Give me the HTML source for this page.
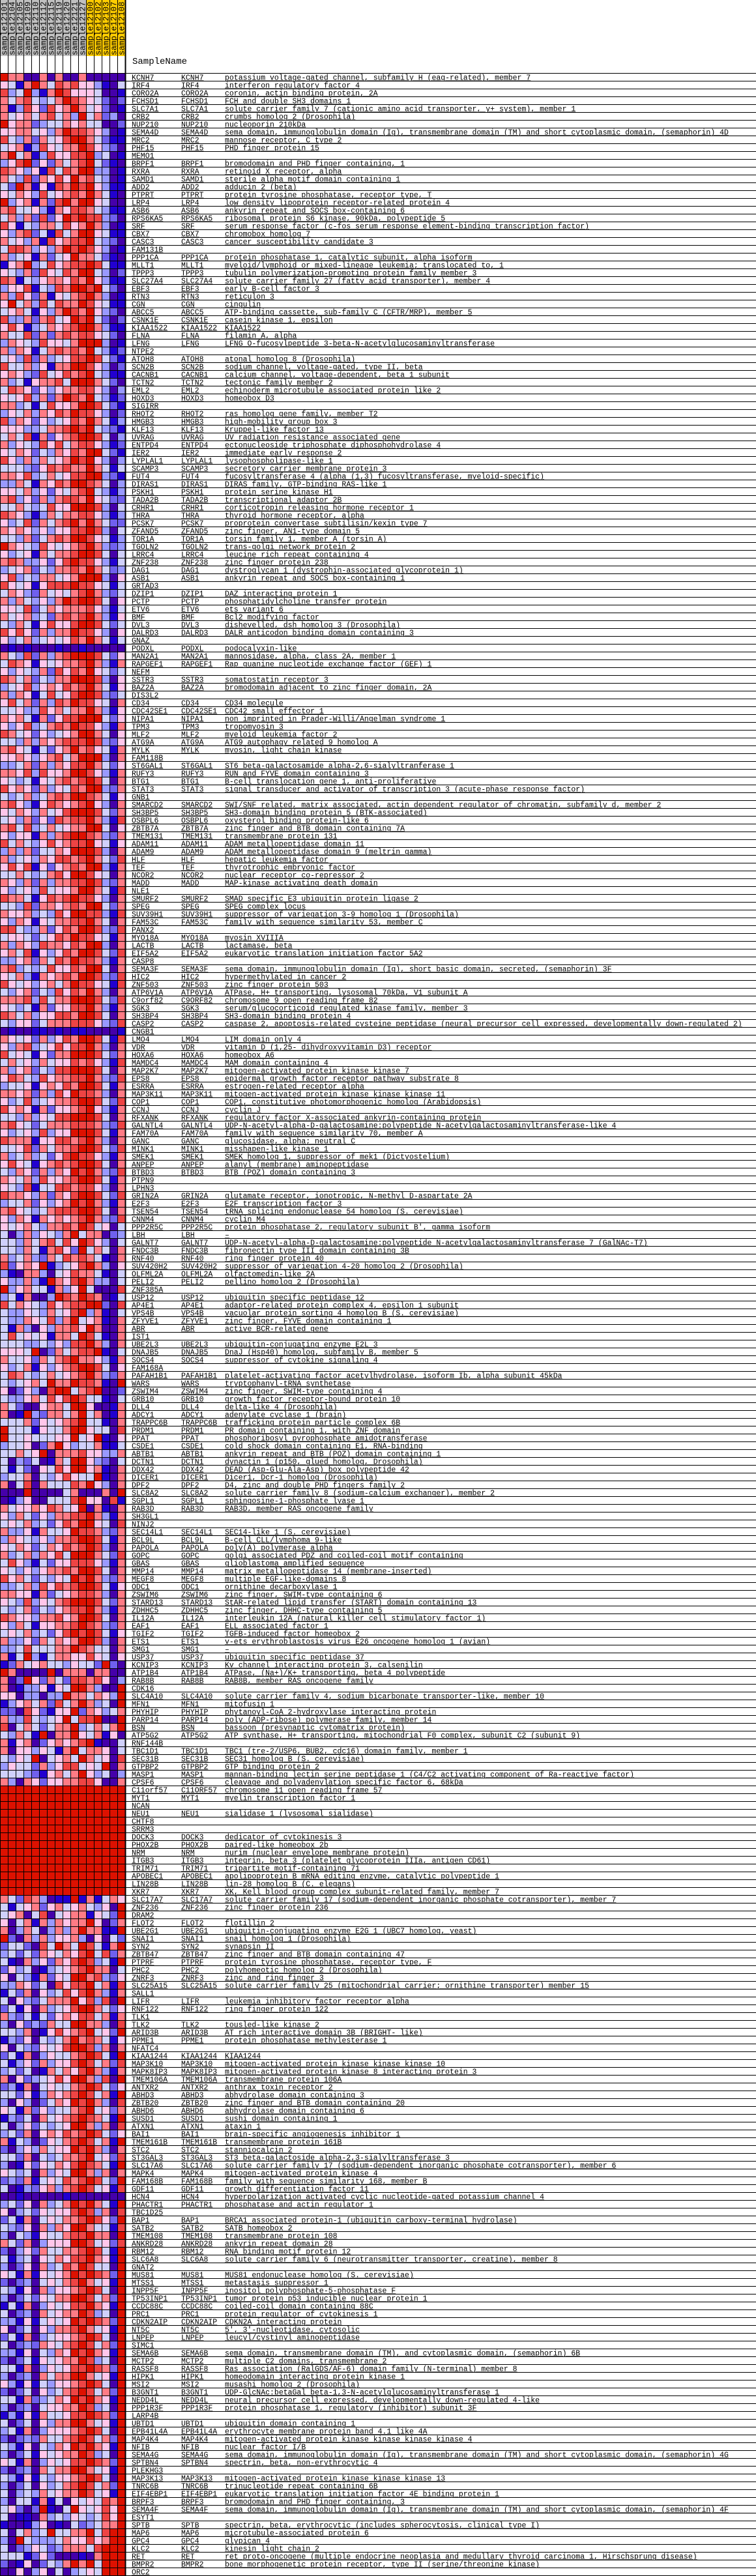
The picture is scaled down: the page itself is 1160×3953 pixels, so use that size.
<!DOCTYPE html>
<html><head><meta charset="utf-8">
<style>
html,body{margin:0;padding:0;background:#fff;}
svg{display:block;}
.t{font-family:"Liberation Mono","DejaVu Sans Mono",monospace;font-size:11.5px;fill:#000;text-decoration:underline;}
.h{font-family:"Liberation Mono","DejaVu Sans Mono",monospace;font-size:12.5px;fill:#000;}
</style></head>
<body>
<svg id="chart" xmlns="http://www.w3.org/2000/svg" width="1160" height="3953" viewBox="0 0 1160 3953"></svg>
<script>
const sampleNames=["sample12101","sample12104","sample12105","sample12109","sample12110","sample12112","sample12115","sample12119","sample12120","sample12121","sample12127","sample12100","sample12102","sample12103","sample12107","sample12108"];
const sampleGroups=[0,0,0,0,0,0,0,0,0,0,0,1,1,1,1,1];
const geneRows=[
"KCNH7|potassium voltage-gated channel, subfamily H (eag-related), member 7",
"IRF4|interferon regulatory factor 4",
"CORO2A|coronin, actin binding protein, 2A",
"FCHSD1|FCH and double SH3 domains 1",
"SLC7A1|solute carrier family 7 (cationic amino acid transporter, y+ system), member 1",
"CRB2|crumbs homolog 2 (Drosophila)",
"NUP210|nucleoporin 210kDa",
"SEMA4D|sema domain, immunoglobulin domain (Ig), transmembrane domain (TM) and short cytoplasmic domain, (semaphorin) 4D",
"MRC2|mannose receptor, C type 2",
"PHF15|PHD finger protein 15",
"MEMO1|",
"BRPF1|bromodomain and PHD finger containing, 1",
"RXRA|retinoid X receptor, alpha",
"SAMD1|sterile alpha motif domain containing 1",
"ADD2|adducin 2 (beta)",
"PTPRT|protein tyrosine phosphatase, receptor type, T",
"LRP4|low density lipoprotein receptor-related protein 4",
"ASB6|ankyrin repeat and SOCS box-containing 6",
"RPS6KA5|ribosomal protein S6 kinase, 90kDa, polypeptide 5",
"SRF|serum response factor (c-fos serum response element-binding transcription factor)",
"CBX7|chromobox homolog 7",
"CASC3|cancer susceptibility candidate 3",
"FAM131B|",
"PPP1CA|protein phosphatase 1, catalytic subunit, alpha isoform",
"MLLT1|myeloid/lymphoid or mixed-lineage leukemia; translocated to, 1",
"TPPP3|tubulin polymerization-promoting protein family member 3",
"SLC27A4|solute carrier family 27 (fatty acid transporter), member 4",
"EBF3|early B-cell factor 3",
"RTN3|reticulon 3",
"CGN|cingulin",
"ABCC5|ATP-binding cassette, sub-family C (CFTR/MRP), member 5",
"CSNK1E|casein kinase 1, epsilon",
"KIAA1522|KIAA1522",
"FLNA|filamin A, alpha",
"LFNG|LFNG O-fucosylpeptide 3-beta-N-acetylglucosaminyltransferase",
"NTPE2|",
"ATOH8|atonal homolog 8 (Drosophila)",
"SCN2B|sodium channel, voltage-gated, type II, beta",
"CACNB1|calcium channel, voltage-dependent, beta 1 subunit",
"TCTN2|tectonic family member 2",
"EML2|echinoderm microtubule associated protein like 2",
"HOXD3|homeobox D3",
"SIGIRR|",
"RHOT2|ras homolog gene family, member T2",
"HMGB3|high-mobility group box 3",
"KLF13|Kruppel-like factor 13",
"UVRAG|UV radiation resistance associated gene",
"ENTPD4|ectonucleoside triphosphate diphosphohydrolase 4",
"IER2|immediate early response 2",
"LYPLAL1|lysophospholipase-like 1",
"SCAMP3|secretory carrier membrane protein 3",
"FUT4|fucosyltransferase 4 (alpha (1,3) fucosyltransferase, myeloid-specific)",
"DIRAS1|DIRAS family, GTP-binding RAS-like 1",
"PSKH1|protein serine kinase H1",
"TADA2B|transcriptional adaptor 2B",
"CRHR1|corticotropin releasing hormone receptor 1",
"THRA|thyroid hormone receptor, alpha",
"PCSK7|proprotein convertase subtilisin/kexin type 7",
"ZFAND5|zinc finger, AN1-type domain 5",
"TOR1A|torsin family 1, member A (torsin A)",
"TGOLN2|trans-golgi network protein 2",
"LRRC4|leucine rich repeat containing 4",
"ZNF238|zinc finger protein 238",
"DAG1|dystroglycan 1 (dystrophin-associated glycoprotein 1)",
"ASB1|ankyrin repeat and SOCS box-containing 1",
"GRTAD3|",
"DZIP1|DAZ interacting protein 1",
"PCTP|phosphatidylcholine transfer protein",
"ETV6|ets variant 6",
"BMF|Bcl2 modifying factor",
"DVL3|dishevelled, dsh homolog 3 (Drosophila)",
"DALRD3|DALR anticodon binding domain containing 3",
"GNAZ|",
"PODXL|podocalyxin-like",
"MAN2A1|mannosidase, alpha, class 2A, member 1",
"RAPGEF1|Rap guanine nucleotide exchange factor (GEF) 1",
"NEFM|",
"SSTR3|somatostatin receptor 3",
"BAZ2A|bromodomain adjacent to zinc finger domain, 2A",
"DIS3L2|",
"CD34|CD34 molecule",
"CDC42SE1|CDC42 small effector 1",
"NIPA1|non imprinted in Prader-Willi/Angelman syndrome 1",
"TPM3|tropomyosin 3",
"MLF2|myeloid leukemia factor 2",
"ATG9A|ATG9 autophagy related 9 homolog A",
"MYLK|myosin, light chain kinase",
"FAM118B|",
"ST6GAL1|ST6 beta-galactosamide alpha-2,6-sialyltranferase 1",
"RUFY3|RUN and FYVE domain containing 3",
"BTG1|B-cell translocation gene 1, anti-proliferative",
"STAT3|signal transducer and activator of transcription 3 (acute-phase response factor)",
"GNB1|",
"SMARCD2|SWI/SNF related, matrix associated, actin dependent regulator of chromatin, subfamily d, member 2",
"SH3BP5|SH3-domain binding protein 5 (BTK-associated)",
"OSBPL6|oxysterol binding protein-like 6",
"ZBTB7A|zinc finger and BTB domain containing 7A",
"TMEM131|transmembrane protein 131",
"ADAM11|ADAM metallopeptidase domain 11",
"ADAM9|ADAM metallopeptidase domain 9 (meltrin gamma)",
"HLF|hepatic leukemia factor",
"TEF|thyrotrophic embryonic factor",
"NCOR2|nuclear receptor co-repressor 2",
"MADD|MAP-kinase activating death domain",
"NLE1|",
"SMURF2|SMAD specific E3 ubiquitin protein ligase 2",
"SPEG|SPEG complex locus",
"SUV39H1|suppressor of variegation 3-9 homolog 1 (Drosophila)",
"FAM53C|family with sequence similarity 53, member C",
"PANX2|",
"MYO18A|myosin XVIIIA",
"LACTB|lactamase, beta",
"EIF5A2|eukaryotic translation initiation factor 5A2",
"CASP8|",
"SEMA3F|sema domain, immunoglobulin domain (Ig), short basic domain, secreted, (semaphorin) 3F",
"HIC2|hypermethylated in cancer 2",
"ZNF503|zinc finger protein 503",
"ATP6V1A|ATPase, H+ transporting, lysosomal 70kDa, V1 subunit A",
"C9orf82|chromosome 9 open reading frame 82",
"SGK3|serum/glucocorticoid regulated kinase family, member 3",
"SH3BP4|SH3-domain binding protein 4",
"CASP2|caspase 2, apoptosis-related cysteine peptidase (neural precursor cell expressed, developmentally down-regulated 2)",
"CNGB1|",
"LMO4|LIM domain only 4",
"VDR|vitamin D (1,25- dihydroxyvitamin D3) receptor",
"HOXA6|homeobox A6",
"MAMDC4|MAM domain containing 4",
"MAP2K7|mitogen-activated protein kinase kinase 7",
"EPS8|epidermal growth factor receptor pathway substrate 8",
"ESRRA|estrogen-related receptor alpha",
"MAP3K11|mitogen-activated protein kinase kinase kinase 11",
"COP1|COP1, constitutive photomorphogenic homolog (Arabidopsis)",
"CCNJ|cyclin J",
"RFXANK|regulatory factor X-associated ankyrin-containing protein",
"GALNTL4|UDP-N-acetyl-alpha-D-galactosamine:polypeptide N-acetylgalactosaminyltransferase-like 4",
"FAM70A|family with sequence similarity 70, member A",
"GANC|glucosidase, alpha; neutral C",
"MINK1|misshapen-like kinase 1",
"SMEK1|SMEK homolog 1, suppressor of mek1 (Dictyostelium)",
"ANPEP|alanyl (membrane) aminopeptidase",
"BTBD3|BTB (POZ) domain containing 3",
"PTPN9|",
"LPHN3|",
"GRIN2A|glutamate receptor, ionotropic, N-methyl D-aspartate 2A",
"E2F3|E2F transcription factor 3",
"TSEN54|tRNA splicing endonuclease 54 homolog (S. cerevisiae)",
"CNNM4|cyclin M4",
"PPP2R5C|protein phosphatase 2, regulatory subunit B', gamma isoform",
"LBH|–",
"GALNT7|UDP-N-acetyl-alpha-D-galactosamine:polypeptide N-acetylgalactosaminyltransferase 7 (GalNAc-T7)",
"FNDC3B|fibronectin type III domain containing 3B",
"RNF40|ring finger protein 40",
"SUV420H2|suppressor of variegation 4-20 homolog 2 (Drosophila)",
"OLFML2A|olfactomedin-like 2A",
"PELI2|pellino homolog 2 (Drosophila)",
"ZNF385A|",
"USP12|ubiquitin specific peptidase 12",
"AP4E1|adaptor-related protein complex 4, epsilon 1 subunit",
"VPS4B|vacuolar protein sorting 4 homolog B (S. cerevisiae)",
"ZFYVE1|zinc finger, FYVE domain containing 1",
"ABR|active BCR-related gene",
"IST1|",
"UBE2L3|ubiquitin-conjugating enzyme E2L 3",
"DNAJB5|DnaJ (Hsp40) homolog, subfamily B, member 5",
"SOCS4|suppressor of cytokine signaling 4",
"FAM168A|",
"PAFAH1B1|platelet-activating factor acetylhydrolase, isoform Ib, alpha subunit 45kDa",
"WARS|tryptophanyl-tRNA synthetase",
"ZSWIM4|zinc finger, SWIM-type containing 4",
"GRB10|growth factor receptor-bound protein 10",
"DLL4|delta-like 4 (Drosophila)",
"ADCY1|adenylate cyclase 1 (brain)",
"TRAPPC6B|trafficking protein particle complex 6B",
"PRDM1|PR domain containing 1, with ZNF domain",
"PPAT|phosphoribosyl pyrophosphate amidotransferase",
"CSDE1|cold shock domain containing E1, RNA-binding",
"ABTB1|ankyrin repeat and BTB (POZ) domain containing 1",
"DCTN1|dynactin 1 (p150, glued homolog, Drosophila)",
"DDX42|DEAD (Asp-Glu-Ala-Asp) box polypeptide 42",
"DICER1|Dicer1, Dcr-1 homolog (Drosophila)",
"DPF2|D4, zinc and double PHD fingers family 2",
"SLC8A2|solute carrier family 8 (sodium-calcium exchanger), member 2",
"SGPL1|sphingosine-1-phosphate lyase 1",
"RAB3D|RAB3D, member RAS oncogene family",
"SH3GL1|",
"NINJ2|",
"SEC14L1|SEC14-like 1 (S. cerevisiae)",
"BCL9L|B-cell CLL/lymphoma 9-like",
"PAPOLA|poly(A) polymerase alpha",
"GOPC|golgi associated PDZ and coiled-coil motif containing",
"GBAS|glioblastoma amplified sequence",
"MMP14|matrix metallopeptidase 14 (membrane-inserted)",
"MEGF8|multiple EGF-like-domains 8",
"ODC1|ornithine decarboxylase 1",
"ZSWIM6|zinc finger, SWIM-type containing 6",
"STARD13|StAR-related lipid transfer (START) domain containing 13",
"ZDHHC5|zinc finger, DHHC-type containing 5",
"IL12A|interleukin 12A (natural killer cell stimulatory factor 1)",
"EAF1|ELL associated factor 1",
"TGIF2|TGFB-induced factor homeobox 2",
"ETS1|v-ets erythroblastosis virus E26 oncogene homolog 1 (avian)",
"SMG1|–",
"USP37|ubiquitin specific peptidase 37",
"KCNIP3|Kv channel interacting protein 3, calsenilin",
"ATP1B4|ATPase, (Na+)/K+ transporting, beta 4 polypeptide",
"RAB8B|RAB8B, member RAS oncogene family",
"CDK16|",
"SLC4A10|solute carrier family 4, sodium bicarbonate transporter-like, member 10",
"MFN1|mitofusin 1",
"PHYHIP|phytanoyl-CoA 2-hydroxylase interacting protein",
"PARP14|poly (ADP-ribose) polymerase family, member 14",
"BSN|bassoon (presynaptic cytomatrix protein)",
"ATP5G2|ATP synthase, H+ transporting, mitochondrial F0 complex, subunit C2 (subunit 9)",
"RNF144B|",
"TBC1D1|TBC1 (tre-2/USP6, BUB2, cdc16) domain family, member 1",
"SEC31B|SEC31 homolog B (S. cerevisiae)",
"GTPBP2|GTP binding protein 2",
"MASP1|mannan-binding lectin serine peptidase 1 (C4/C2 activating component of Ra-reactive factor)",
"CPSF6|cleavage and polyadenylation specific factor 6, 68kDa",
"C11orf57|chromosome 11 open reading frame 57",
"MYT1|myelin transcription factor 1",
"NCAN|",
"NEU1|sialidase 1 (lysosomal sialidase)",
"CHTF8|",
"SRRM3|",
"DOCK3|dedicator of cytokinesis 3",
"PHOX2B|paired-like homeobox 2b",
"NRM|nurim (nuclear envelope membrane protein)",
"ITGB3|integrin, beta 3 (platelet glycoprotein IIIa, antigen CD61)",
"TRIM71|tripartite motif-containing 71",
"APOBEC1|apolipoprotein B mRNA editing enzyme, catalytic polypeptide 1",
"LIN28B|lin-28 homolog B (C. elegans)",
"XKR7|XK, Kell blood group complex subunit-related family, member 7",
"SLC17A7|solute carrier family 17 (sodium-dependent inorganic phosphate cotransporter), member 7",
"ZNF236|zinc finger protein 236",
"DRAM2|",
"FLOT2|flotillin 2",
"UBE2G1|ubiquitin-conjugating enzyme E2G 1 (UBC7 homolog, yeast)",
"SNAI1|snail homolog 1 (Drosophila)",
"SYN2|synapsin II",
"ZBTB47|zinc finger and BTB domain containing 47",
"PTPRF|protein tyrosine phosphatase, receptor type, F",
"PHC2|polyhomeotic homolog 2 (Drosophila)",
"ZNRF3|zinc and ring finger 3",
"SLC25A15|solute carrier family 25 (mitochondrial carrier; ornithine transporter) member 15",
"SALL1|",
"LIFR|leukemia inhibitory factor receptor alpha",
"RNF122|ring finger protein 122",
"TLK1|",
"TLK2|tousled-like kinase 2",
"ARID3B|AT rich interactive domain 3B (BRIGHT- like)",
"PPME1|protein phosphatase methylesterase 1",
"NFATC4|",
"KIAA1244|KIAA1244",
"MAP3K10|mitogen-activated protein kinase kinase kinase 10",
"MAPK8IP3|mitogen-activated protein kinase 8 interacting protein 3",
"TMEM106A|transmembrane protein 106A",
"ANTXR2|anthrax toxin receptor 2",
"ABHD3|abhydrolase domain containing 3",
"ZBTB20|zinc finger and BTB domain containing 20",
"ABHD6|abhydrolase domain containing 6",
"SUSD1|sushi domain containing 1",
"ATXN1|ataxin 1",
"BAI1|brain-specific angiogenesis inhibitor 1",
"TMEM161B|transmembrane protein 161B",
"STC2|stanniocalcin 2",
"ST3GAL3|ST3 beta-galactoside alpha-2,3-sialyltransferase 3",
"SLC17A6|solute carrier family 17 (sodium-dependent inorganic phosphate cotransporter), member 6",
"MAPK4|mitogen-activated protein kinase 4",
"FAM168B|family with sequence similarity 168, member B",
"GDF11|growth differentiation factor 11",
"HCN4|hyperpolarization activated cyclic nucleotide-gated potassium channel 4",
"PHACTR1|phosphatase and actin regulator 1",
"TBC1D25|",
"BAP1|BRCA1 associated protein-1 (ubiquitin carboxy-terminal hydrolase)",
"SATB2|SATB homeobox 2",
"TMEM108|transmembrane protein 108",
"ANKRD28|ankyrin repeat domain 28",
"RBM12|RNA binding motif protein 12",
"SLC6A8|solute carrier family 6 (neurotransmitter transporter, creatine), member 8",
"GNAT2|",
"MUS81|MUS81 endonuclease homolog (S. cerevisiae)",
"MTSS1|metastasis suppressor 1",
"INPP5F|inositol polyphosphate-5-phosphatase F",
"TP53INP1|tumor protein p53 inducible nuclear protein 1",
"CCDC88C|coiled-coil domain containing 88C",
"PRC1|protein regulator of cytokinesis 1",
"CDKN2AIP|CDKN2A interacting protein",
"NT5C|5', 3'-nucleotidase, cytosolic",
"LNPEP|leucyl/cystinyl aminopeptidase",
"SIMC1|",
"SEMA6B|sema domain, transmembrane domain (TM), and cytoplasmic domain, (semaphorin) 6B",
"MCTP2|multiple C2 domains, transmembrane 2",
"RASSF8|Ras association (RalGDS/AF-6) domain family (N-terminal) member 8",
"HIPK1|homeodomain interacting protein kinase 1",
"MSI2|musashi homolog 2 (Drosophila)",
"B3GNT1|UDP-GlcNAc:betaGal beta-1,3-N-acetylglucosaminyltransferase 1",
"NEDD4L|neural precursor cell expressed, developmentally down-regulated 4-like",
"PPP1R3F|protein phosphatase 1, regulatory (inhibitor) subunit 3F",
"LARP4B|",
"UBTD1|ubiquitin domain containing 1",
"EPB41L4A|erythrocyte membrane protein band 4.1 like 4A",
"MAP4K4|mitogen-activated protein kinase kinase kinase kinase 4",
"NFIB|nuclear factor I/B",
"SEMA4G|sema domain, immunoglobulin domain (Ig), transmembrane domain (TM) and short cytoplasmic domain, (semaphorin) 4G",
"SPTBN4|spectrin, beta, non-erythrocytic 4",
"PLEKHG3|",
"MAP3K13|mitogen-activated protein kinase kinase kinase 13",
"TNRC6B|trinucleotide repeat containing 6B",
"EIF4EBP1|eukaryotic translation initiation factor 4E binding protein 1",
"BRPF3|bromodomain and PHD finger containing, 3",
"SEMA4F|sema domain, immunoglobulin domain (Ig), transmembrane domain (TM) and short cytoplasmic domain, (semaphorin) 4F",
"ESYT1|",
"SPTB|spectrin, beta, erythrocytic (includes spherocytosis, clinical type I)",
"MAP6|microtubule-associated protein 6",
"GPC4|glypican 4",
"KLC2|kinesin light chain 2",
"RET|ret proto-oncogene (multiple endocrine neoplasia and medullary thyroid carcinoma 1, Hirschsprung disease)",
"BMPR2|bone morphogenetic protein receptor, type II (serine/threonine kinase)",
"ORC2|"
];
const valueRows=[
"8660060600600000","5416864767553104","7348316875554001","6467434687654202","6137527568645201","6456467463846230","8566234465644002",
"5566453687765301","7436264578864211","4561375466875320","6846137557783401","3578252646784210","7653517476883301","6437265758674301",
"4286151768785311","5465374567686410","8356162786885400","6744531657764311","4636272587877320","7514366475686301","5367241746885411",
"6453617567784320","4776353687875301","6345162458664210","1568347567787411","5436275476884302","7614356657685311","3557143768878420",
"6375261546786301","5846374766875411","4564153687685320","7336267458784202","5751346567886311","6447262676775420","3654375546888301",
"6365146767684312","4537263457787421","7446351668875302","5653274576784311","6341566748886420","4765253566775303","5457362687684312",
"6634147556887421","3546365768775302","7365253457686413","5553346678784321","4647162567887403","6354375746775312","5465243657688421",
"7536364568785303","4443257676686414","6657346457788321","3364165768876403","5546352546784313","6735263677685422","4464347558887304",
"7653136466775313","5347264678686422","6565353557787304","4436246768875413","8654375456786323","5345164667887404","6763352578775314",
"3456243667686423","5734366456888305","7545157778775414","4653264546786324","6364353687887405","5547246566675314","6456342676786315",
"4364157557887424","7575263668775305","5346345457686414","0101000100100000","6437263678887425","4765154566786316","5354362757685424",
"7646243668887305","3457356576786415","6365147457887324","5746263768775406","4453375646686315","6564162577888425","5357346768775316",
"7645253456886405","4436365677787325","6754142568675416","5565356746888306","3346263657786425","6657375568875316","5434154676787406",
"7565263547688326","4346346768876415","6753157656785306","5465364578887426","4536252767786317","6747346456688405","5355163678876326",
"7464357567785415","3636244658887306","6345365776786427","5757152567688316","4464346758875406","6536263667787326","5345374556886417",
"7664157678775306","4437266567688426","6556343758877317","5365154667786406","7743362576887327","4554245768775416","6365376657688306",
"5647153576887427","3356264768776316","6734347557688406","5463165676887327","7545356468775417","4356243757686306","6667374668887427",
"5434162557786316","7646355776887406","4355246667775327","0100110101100001","6545263576887417","5367345757786306","7454152668887426",
"4645364557675317","6356243778887406","5764375667786327","3445156576887416","6656263758776306","5347345667887427","7565162556785316",
"4436354778887406","6754246667776327","5345373558887416","7666155776786306","4457264667887427","6346342578775316","5754156767887406",
"4365263658786327","6546375567887416","5437144776775306","7665362657887427","3446253568786316","6754346777887406","5365165656786327",
"5456436676874504","4036354368466023","4436467475875304","4436416752846406","6346326476764106","7256581345786305","3106630457664104",
"5336318657863304","8356441635840007","3416003876876014","7465437567788207","4335436457836104","4336547368456106","4163053667586006",
"4745451664874106","4443343537786306","5554802646778104","6445264678665316","5346153567887405","4764346456786326","4345648668776108",
"5025307884678002","4335647578744104","6420056648850016","6018326646846016","4446254567844106","8444154468854407","8445444558458105",
"3445026853446114","4464580666755336","4032401648853204","4142054758856106","3446043575448106","6047064447685306","0008000046000608",
"0135004447855071","6455657645806106","5364253667786316","4546342576885407","6335164458776326","3654353667887416","5465246576787306",
"6346365748886427","4753142557775316","5435356676887406","7564243548786326","3346375767887415","6655162456776306","5437354678887426",
"4346243567786316","7655366756887406","5364155667876326","4546342578787415","6335264656887306","3347444668764406","6148314665575405",
"1264564435442820","8600008066606600","6028526427767503","6013351548863008","5503303386646538","1356462746863408","2207521558265346",
"6337434584778008","7046424668346468","4364180668546150","6156025656781004","6055354168466504","4354804564864507","3544263577454806",
"4443215646853403","6306525566775006",
"8888888888888888","8888888888888888","8888888888888888","8888888888888888","8888888888888888","8888888888888888","8888888888888888",
"8888888888888888","8888888888888888","8888888888888888","8888888888888888","8888888888888888","8888888888888888","8888888888888888",
"6427630118161465","4145625645643508","4560470456615428","5046163656685026","6036403636866118","8206363556305042","2442074864874168",
"3424265465784726","4106352657873418","2534013456786604","5043162548867325","3365240757784617","1426053475786316","4053246668573708",
"2415063457886425","6324142565774616","3052326448866307","4436015756784528","1325043468676415","5043254578873606","2416035446787418",
"4135263557874627","3424016465786316","6052345758863708","2316045446787425","4425136567874618","3053024658786307","5416253446784526",
"1324064567876418","4035243458863607","3426056576787425","6143025467874618","2035364558786306","4426043466784527","3015254657876418",
"5434063548863606","2326145476787428","4013256367874517","0010000010000000","3425063468786418","5034254557873607","2416045466787528",
"4325063658864417","3043154467786608","6426035558874527","2035264466787418","4134054657786518","3025063476874408","5416154568787628",
"2023045467864518","4315063556787408","3024254668874628","1416035457786518","4023064566873408","3315145458787628","5024053667864518",
"2416034556787408","4023265467874628","3315043658786518","2024154566873408","4416035457787628","3023064668864518","5315143556787408",
"2024053467874628","4416234658786518","3023045566873408","1315164457787628","4024053668864518","3416035556787408","2023264467874628",
"4315043658786518","3024154566873408","5416035457787628","2023064668864518","4315143556787408","3024053467874628","4034364566874518",
"3044161405454768","4520281048545758","4011063435434758","1001350104234668","4046348446684788","3084333465575688","4023542366647888",
"4441252000106888","2015024368684888","0050350403454888"
];
const palette=["#4500aa","#2200d0","#7060ee","#9999ff","#d0d0fb","#ffc6ea","#ff7b85","#ee4444","#dd1100"];
</script>
<script>
(function(){
const NS="http://www.w3.org/2000/svg";
const svg=document.getElementById('chart');
const colW=12, rowH=12, gridTop=112, headH=86;
const nCols=sampleNames.length, nRows=geneRows.length;
const xCol=c=>c*colW;
const yRow=r=>gridTop+r*rowH;
function mk(tag,attrs){const e=document.createElementNS(NS,tag);for(const k in attrs)e.setAttribute(k,attrs[k]);return e;}

// header
const gh=mk('g',{});


svg.appendChild(gh);
for(let c=0;c<nCols;c++){
  const r=mk('rect',{x:xCol(c),y:0,width:colW,height:headH,fill:sampleGroups[c]?'#ffcc00':'#c0c0c0'});
  
  
  gh.appendChild(r);
  const x=xCol(c)+10.5, y=85;
  const t=mk('text',{x:x,y:y,class:'h',transform:'rotate(-90 '+x+' '+y+')'});
  t.textContent=sampleNames[c];
  
  
  gh.appendChild(t);
}
const sn=mk('text',{x:203,y:98,class:'h','font-size':'14'});
sn.setAttribute('style','font-size:14px');
sn.textContent='SampleName';


svg.appendChild(sn);

// cells
const gc=mk('g',{});


svg.appendChild(gc);
for(let r=0;r<nRows;r++){
  const row=valueRows[r]||'';
  for(let c=0;c<nCols;c++){
    const v=parseInt(row[c]||'4',10);
    const rc=mk('rect',{x:xCol(c),y:yRow(r),width:colW,height:rowH,fill:palette[v]});
    
    
    gc.appendChild(rc);
  }
}
// grid lines
const gl=mk('g',{stroke:'#000','stroke-width':'1'});


svg.appendChild(gl);
for(let c=0;c<=nCols;c++){
  const x=xCol(c)+0.5;
  gl.appendChild(mk('line',{x1:x,y1:0,x2:x,y2:3953,'stroke-width':c===nCols?2:1}));
}
for(let r=0;r<=nRows;r++){
  const y=yRow(r)+0.5;
  gl.appendChild(mk('line',{x1:0,y1:y,x2:1160,y2:y}));
}
// text
const gt=mk('g',{});


svg.appendChild(gt);
for(let r=0;r<nRows;r++){
  const parts=geneRows[r].split('|');
  const sym=parts[0], desc=parts[1];
  const y=yRow(r)+10.5;
  const t1=mk('text',{x:202,y:y,class:'t'});
  t1.textContent=sym;
  
  
  gt.appendChild(t1);
  if(desc){
    const t2=mk('text',{x:278,y:y,class:'t'});
    t2.textContent=sym.toUpperCase();
    
    
    gt.appendChild(t2);
    const t3=mk('text',{x:345,y:y,class:'t'});
    t3.textContent=desc;
    
    
    gt.appendChild(t3);
  }
}
})();
</script>
</body></html>
